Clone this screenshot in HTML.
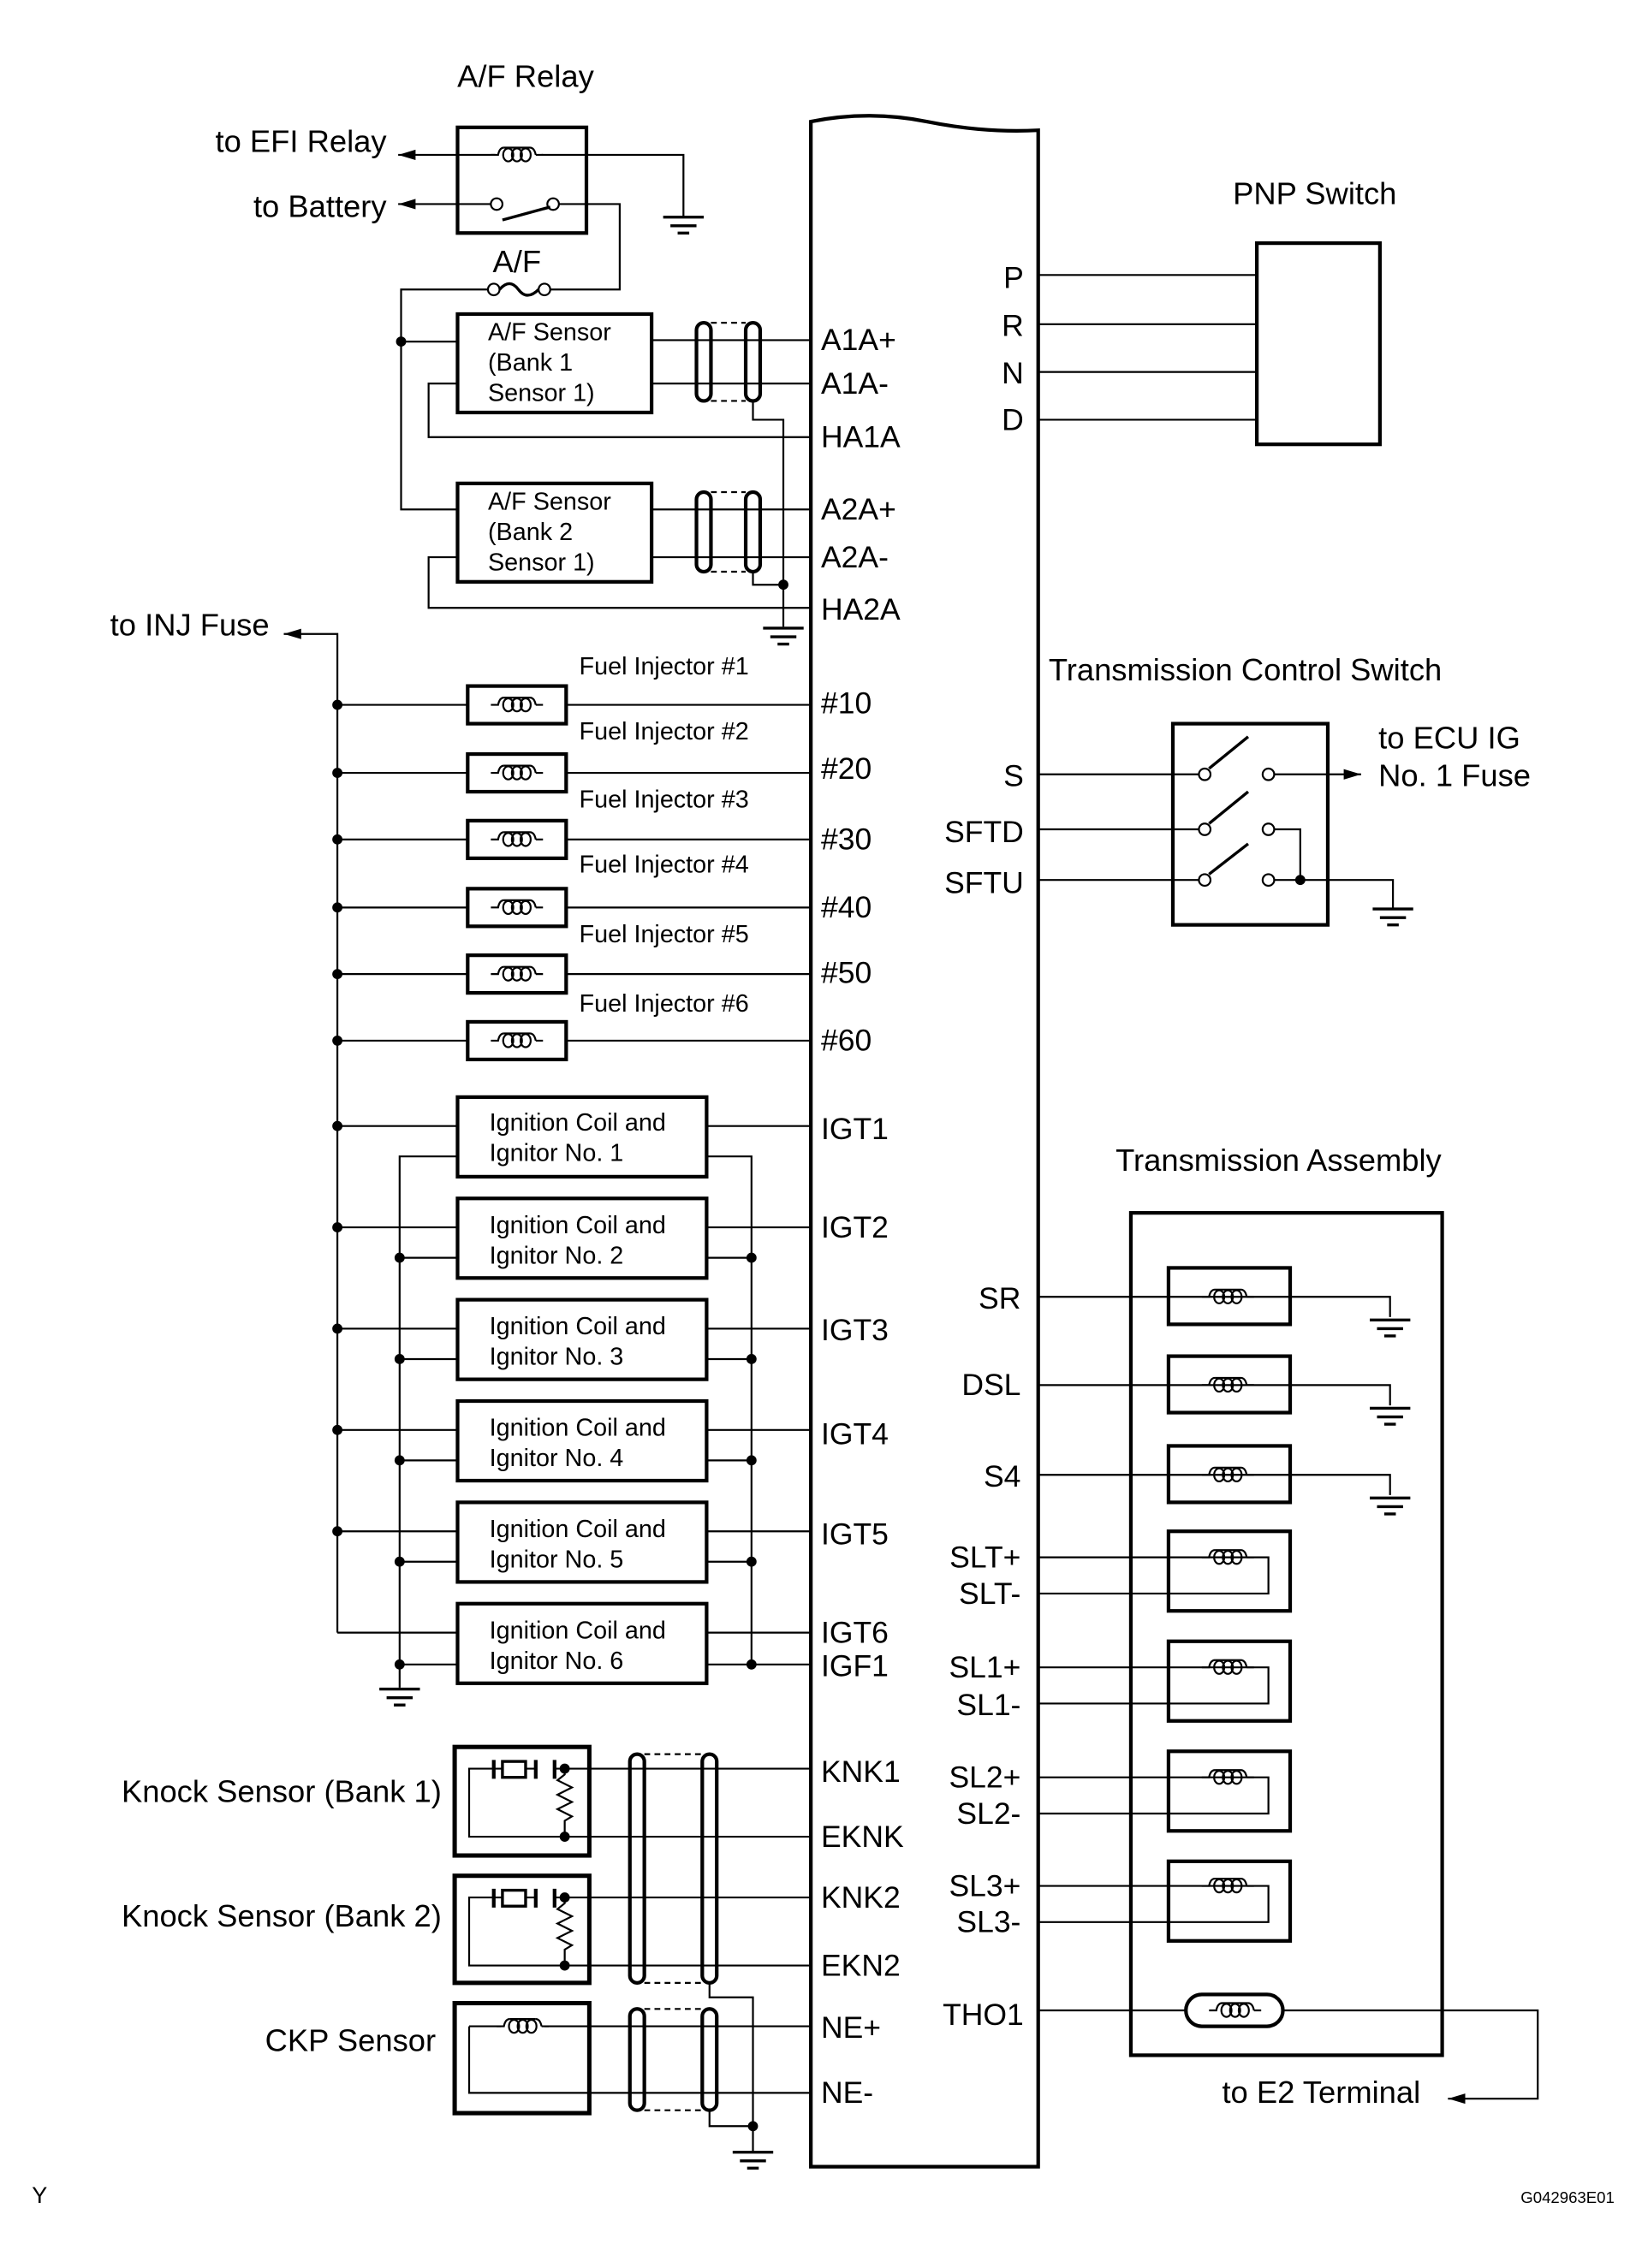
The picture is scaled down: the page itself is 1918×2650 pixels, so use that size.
<!DOCTYPE html>
<html><head><meta charset="utf-8"><style>
html,body{margin:0;padding:0;background:#fff;width:1918px;height:2650px;overflow:hidden}
svg{display:block}
text{font-family:"Liberation Sans",Arial,sans-serif;fill:#000}
</style></head><body>
<svg width="1918" height="2650" viewBox="0 0 1134 1567" preserveAspectRatio="none" xmlns="http://www.w3.org/2000/svg">
<defs>
<symbol id="coil" viewBox="-18 -8 36 16" overflow="visible">
<path d="M-18,0 H-13 Q-12,-5 -9,-5 M13,0 H18 M9,-5 Q12,-5 13,0" fill="none" stroke="#000" stroke-width="1.3"/>
<ellipse cx="-6" cy="0" rx="3.5" ry="4.5" fill="none" stroke="#000" stroke-width="1.3"/>
<ellipse cx="0" cy="0" rx="3.5" ry="4.5" fill="none" stroke="#000" stroke-width="1.3"/>
<ellipse cx="6" cy="0" rx="3.5" ry="4.5" fill="none" stroke="#000" stroke-width="1.3"/>
<path d="M-9,-5 H9" stroke="#000" stroke-width="1.3"/>
</symbol>
<symbol id="gnd" overflow="visible">
<path d="M-14,0 H14 M-9,6 H9 M-4,11 H4" stroke="#000" stroke-width="2"/>
</symbol>
<marker id="arr" viewBox="0 0 10 10" refX="10" refY="5" markerWidth="12" markerHeight="12" markerUnits="userSpaceOnUse" orient="auto"><path d="M0,2 L10,5 L0,8 Z" fill="#000"/></marker>
</defs>
<g stroke="#000" fill="none" stroke-width="1.3">
<path d="M560,1497 V84 Q600,76 640,84 T717,90 V1497 Z" stroke-width="2.5"/>

<rect x="316" y="88" width="89" height="73" stroke-width="2.5"/>
<path d="M342,107 H275" marker-end="url(#arr)"/>
<path d="M374,107 H472 V150"/>
<path d="M339,141 H275" marker-end="url(#arr)"/>
<circle cx="343" cy="141" r="4" fill="#fff"/>
<circle cx="382" cy="141" r="4" fill="#fff"/>
<path d="M347,152 L380,143" stroke-width="2"/>
<path d="M386,141 H428 V200 H380"/>
<circle cx="341" cy="200" r="4" fill="#fff"/><circle cx="376" cy="200" r="4" fill="#fff"/>
<path d="M345,200 Q352,192 358,200 T372,200" stroke-width="2"/>
<path d="M337,200 H277 V352 H316 M277,236 H316"/>
<rect x="316" y="217" width="134" height="68" stroke-width="2.5"/>
<rect x="316" y="334" width="134" height="68" stroke-width="2.5"/>
<path d="M450,235 H560 M450,265 H560 M316,265 H296 V302 H560"/>
<path d="M450,352 H560 M450,385 H560 M316,385 H296 V420 H560"/>
<rect x="481" y="223" width="10" height="54" rx="5" stroke-width="2.5"/>
<rect x="515" y="223" width="10" height="54" rx="5" stroke-width="2.5"/>
<rect x="481" y="340" width="10" height="55" rx="5" stroke-width="2.5"/>
<rect x="515" y="340" width="10" height="55" rx="5" stroke-width="2.5"/>
<path d="M491,223 H515 M491,277 H515 M491,340 H515 M491,395 H515" stroke-dasharray="4,3"/>
<path d="M520,277 V290 H541 V433 M520,395 V404 H541"/>

<rect x="868" y="168" width="85" height="139" stroke-width="2.5"/>
<path d="M717,190 H868 M717,224 H868 M717,257 H868 M717,290 H868"/>

<path d="M233,1128 V438 H196" marker-end="url(#arr)"/>
<path d="M233,487 H560 M233,534 H560 M233,580 H560 M233,627 H560 M233,673 H560 M233,719 H560"/>
<g fill="#fff" stroke-width="2.5">
<rect x="323" y="474" width="68" height="26"/><rect x="323" y="521" width="68" height="26"/>
<rect x="323" y="567" width="68" height="26"/><rect x="323" y="614" width="68" height="26"/>
<rect x="323" y="660" width="68" height="26"/><rect x="323" y="706" width="68" height="26"/>
</g>

<path d="M233,778 H316 M233,848 H316 M233,918 H316 M233,988 H316 M233,1058 H316 M233,1128 H316"/>
<path d="M488,778 H560 M488,848 H560 M488,918 H560 M488,988 H560 M488,1058 H560 M488,1128 H560 M488,1150 H560"/>
<path d="M316,799 H276 V1166 M276,869 H316 M276,939 H316 M276,1009 H316 M276,1079 H316 M276,1150 H316"/>
<path d="M488,799 H519 V1150 M488,869 H519 M488,939 H519 M488,1009 H519 M488,1079 H519"/>
<g stroke-width="2.5">
<rect x="316" y="758" width="172" height="55"/><rect x="316" y="828" width="172" height="55"/>
<rect x="316" y="898" width="172" height="55"/><rect x="316" y="968" width="172" height="55"/>
<rect x="316" y="1038" width="172" height="55"/><rect x="316" y="1108" width="172" height="55"/>
</g>

<rect x="314" y="1207" width="93" height="75" stroke-width="3"/>
<rect x="314" y="1296" width="93" height="74" stroke-width="3"/>
<rect x="314" y="1384" width="93" height="76" stroke-width="3"/>
<path d="M341,1222 H324 V1269 H560 M390,1222 H560 M390,1222 V1226 l-5,4 10,5 -10,5 10,5 -10,5 10,5 -5,3 V1269"/>
<path d="M341,1311 H324 V1358 H560 M390,1311 H560 M390,1311 V1315 l-5,4 10,5 -10,5 10,5 -10,5 10,5 -5,3 V1358"/>
<path d="M341,1216 V1229 M370,1216 V1229 M383,1216 V1229 M341,1305 V1318 M370,1305 V1318 M383,1305 V1318" stroke-width="2.5"/>
<rect x="347" y="1217" width="16" height="11" stroke-width="2"/>
<rect x="347" y="1306" width="16" height="11" stroke-width="2"/>
<path d="M341,1222 H347 M363,1222 H370 M383,1222 H390 M341,1311 H347 M363,1311 H370 M383,1311 H390"/>
<path d="M324,1400 V1446 H560 M324,1400 H346 M376,1400 H560"/>
<rect x="435" y="1212" width="10" height="158" rx="5" stroke-width="2.5"/>
<rect x="485" y="1212" width="10" height="158" rx="5" stroke-width="2.5"/>
<rect x="435" y="1388" width="10" height="70" rx="5" stroke-width="2.5"/>
<rect x="485" y="1388" width="10" height="70" rx="5" stroke-width="2.5"/>
<path d="M445,1212 H485 M445,1370 H485 M445,1388 H485 M445,1458 H485" stroke-dasharray="4,3"/>
<path d="M490,1370 V1380 H520 V1486 M490,1458 V1469 H520"/>

<rect x="810" y="500" width="107" height="139" stroke-width="2.5"/>
<path d="M717,535 H828 M717,573 H828 M717,608 H828"/>
<path d="M880,535 H940" marker-end="url(#arr)"/>
<path d="M880,573 H898 V608 M880,608 H962 V628"/>
<g fill="#fff"><circle cx="832" cy="535" r="4"/><circle cx="876" cy="535" r="4"/>
<circle cx="832" cy="573" r="4"/><circle cx="876" cy="573" r="4"/>
<circle cx="832" cy="608" r="4"/><circle cx="876" cy="608" r="4"/></g>
<path d="M835,531 L862,509 M835,569 L862,547 M835,604 L862,583" stroke-width="2"/>

<rect x="781" y="838" width="215" height="582" stroke-width="2.5"/>
<path d="M717,896 H960 V910 M717,957 H960 V971 M717,1019 H960 V1033"/>
<path d="M717,1076 H876 V1101 H717 M717,1152 H876 V1177 H717 M717,1228 H876 V1253 H717 M717,1303 H876 V1328 H717"/>
<g stroke-width="2.5">
<rect x="807" y="876" width="84" height="39"/><rect x="807" y="937" width="84" height="39"/>
<rect x="807" y="999" width="84" height="39"/><rect x="807" y="1058" width="84" height="55"/>
<rect x="807" y="1134" width="84" height="55"/><rect x="807" y="1210" width="84" height="55"/>
<rect x="807" y="1286" width="84" height="55"/>
</g>
<path d="M717,1389 H1062 V1450 H1000" marker-end="url(#arr)"/>
<rect x="819" y="1378" width="67" height="22" rx="11" fill="#fff" stroke-width="2.5"/>
</g>

<g>
<use href="#coil" x="339" y="99" width="36" height="16"/>
<use href="#coil" x="339" y="479" width="36" height="16"/>
<use href="#coil" x="339" y="526" width="36" height="16"/>
<use href="#coil" x="339" y="572" width="36" height="16"/>
<use href="#coil" x="339" y="619" width="36" height="16"/>
<use href="#coil" x="339" y="665" width="36" height="16"/>
<use href="#coil" x="339" y="711" width="36" height="16"/>
<use href="#coil" x="343" y="1392" width="36" height="16"/>
<use href="#coil" x="830" y="888" width="36" height="16"/>
<use href="#coil" x="830" y="949" width="36" height="16"/>
<use href="#coil" x="830" y="1011" width="36" height="16"/>
<use href="#coil" x="830" y="1068" width="36" height="16"/>
<use href="#coil" x="830" y="1144" width="36" height="16"/>
<use href="#coil" x="830" y="1220" width="36" height="16"/>
<use href="#coil" x="830" y="1295" width="36" height="16"/>
<use href="#coil" x="835" y="1381" width="36" height="16"/>
</g>
<use href="#gnd" x="472" y="150"/><use href="#gnd" x="541" y="434"/>
<use href="#gnd" x="276" y="1167"/><use href="#gnd" x="520" y="1487"/>
<use href="#gnd" x="962" y="628"/><use href="#gnd" x="960" y="912"/>
<use href="#gnd" x="960" y="973"/><use href="#gnd" x="960" y="1035"/>
<g fill="#000">
<circle cx="277" cy="236" r="3.5"/><circle cx="541" cy="404" r="3.5"/>
<circle cx="233" cy="487" r="3.5"/><circle cx="233" cy="534" r="3.5"/><circle cx="233" cy="580" r="3.5"/>
<circle cx="233" cy="627" r="3.5"/><circle cx="233" cy="673" r="3.5"/><circle cx="233" cy="719" r="3.5"/>
<circle cx="233" cy="778" r="3.5"/><circle cx="233" cy="848" r="3.5"/><circle cx="233" cy="918" r="3.5"/>
<circle cx="233" cy="988" r="3.5"/><circle cx="233" cy="1058" r="3.5"/>
<circle cx="276" cy="869" r="3.5"/><circle cx="276" cy="939" r="3.5"/><circle cx="276" cy="1009" r="3.5"/>
<circle cx="276" cy="1079" r="3.5"/><circle cx="276" cy="1150" r="3.5"/>
<circle cx="519" cy="869" r="3.5"/><circle cx="519" cy="939" r="3.5"/><circle cx="519" cy="1009" r="3.5"/>
<circle cx="519" cy="1079" r="3.5"/><circle cx="519" cy="1150" r="3.5"/>
<circle cx="390" cy="1222" r="3.5"/><circle cx="390" cy="1269" r="3.5"/>
<circle cx="390" cy="1311" r="3.5"/><circle cx="390" cy="1358" r="3.5"/>
<circle cx="520" cy="1469" r="3.5"/><circle cx="898" cy="608" r="3.5"/>
</g>

<g font-size="21.5">
<text x="363" y="60" text-anchor="middle">A/F Relay</text>
<text x="267" y="105" text-anchor="end">to EFI Relay</text>
<text x="267" y="150" text-anchor="end">to Battery</text>
<text x="357" y="188" text-anchor="middle">A/F</text>
<text x="908" y="141" text-anchor="middle">PNP Switch</text>
<text x="186" y="439" text-anchor="end">to INJ Fuse</text>
<text x="860" y="470" text-anchor="middle">Transmission Control Switch</text>
<text x="952" y="517">to ECU IG</text>
<text x="952" y="543">No. 1 Fuse</text>
<text x="883" y="809" text-anchor="middle">Transmission Assembly</text>
<text x="981" y="1453" text-anchor="end">to E2 Terminal</text>
<text x="305" y="1245" text-anchor="end">Knock Sensor (Bank 1)</text>
<text x="305" y="1331" text-anchor="end">Knock Sensor (Bank 2)</text>
<text x="301" y="1417" text-anchor="end">CKP Sensor</text>
<text x="22" y="1522" font-size="16">Y</text>
</g>
<g font-size="21">
<text x="567" y="242">A1A+</text><text x="567" y="272">A1A-</text><text x="567" y="309">HA1A</text>
<text x="567" y="359">A2A+</text><text x="567" y="392">A2A-</text><text x="567" y="428">HA2A</text>
<text x="567" y="493">#10</text><text x="567" y="538">#20</text><text x="567" y="587">#30</text>
<text x="567" y="634">#40</text><text x="567" y="679">#50</text><text x="567" y="726">#60</text>
<text x="567" y="787">IGT1</text><text x="567" y="855">IGT2</text><text x="567" y="926">IGT3</text>
<text x="567" y="998">IGT4</text><text x="567" y="1067">IGT5</text><text x="567" y="1135">IGT6</text>
<text x="567" y="1158">IGF1</text>
<text x="567" y="1231">KNK1</text><text x="567" y="1276">EKNK</text><text x="567" y="1318">KNK2</text>
<text x="567" y="1365">EKN2</text><text x="567" y="1408">NE+</text><text x="567" y="1453">NE-</text>
</g>
<g font-size="21" text-anchor="end">
<text x="707" y="199">P</text><text x="707" y="232">R</text><text x="707" y="265">N</text><text x="707" y="297">D</text>
<text x="707" y="543">S</text><text x="707" y="582">SFTD</text><text x="707" y="617">SFTU</text>
<text x="705" y="904">SR</text><text x="705" y="964">DSL</text><text x="705" y="1027">S4</text>
<text x="705" y="1083">SLT+</text><text x="705" y="1108">SLT-</text>
<text x="705" y="1159">SL1+</text><text x="705" y="1185">SL1-</text>
<text x="705" y="1235">SL2+</text><text x="705" y="1260">SL2-</text>
<text x="705" y="1310">SL3+</text><text x="705" y="1335">SL3-</text>
<text x="707" y="1399">THO1</text>
</g>
<g font-size="17">
<text x="337" y="235">A/F Sensor</text><text x="337" y="256">(Bank 1</text><text x="337" y="277">Sensor 1)</text>
<text x="337" y="352">A/F Sensor</text><text x="337" y="373">(Bank 2</text><text x="337" y="394">Sensor 1)</text>
<text x="338" y="781">Ignition Coil and</text><text x="338" y="802">Ignitor No. 1</text>
<text x="338" y="852">Ignition Coil and</text><text x="338" y="873">Ignitor No. 2</text>
<text x="338" y="922">Ignition Coil and</text><text x="338" y="943">Ignitor No. 3</text>
<text x="338" y="992">Ignition Coil and</text><text x="338" y="1013">Ignitor No. 4</text>
<text x="338" y="1062">Ignition Coil and</text><text x="338" y="1083">Ignitor No. 5</text>
<text x="338" y="1132">Ignition Coil and</text><text x="338" y="1153">Ignitor No. 6</text>
</g>
<g font-size="17">
<text x="400" y="466">Fuel Injector #1</text><text x="400" y="511">Fuel Injector #2</text>
<text x="400" y="558">Fuel Injector #3</text><text x="400" y="603">Fuel Injector #4</text>
<text x="400" y="651">Fuel Injector #5</text><text x="400" y="699">Fuel Injector #6</text>
</g>
<text x="1115" y="1522" font-size="11" text-anchor="end">G042963E01</text>
</svg>
</body></html>
